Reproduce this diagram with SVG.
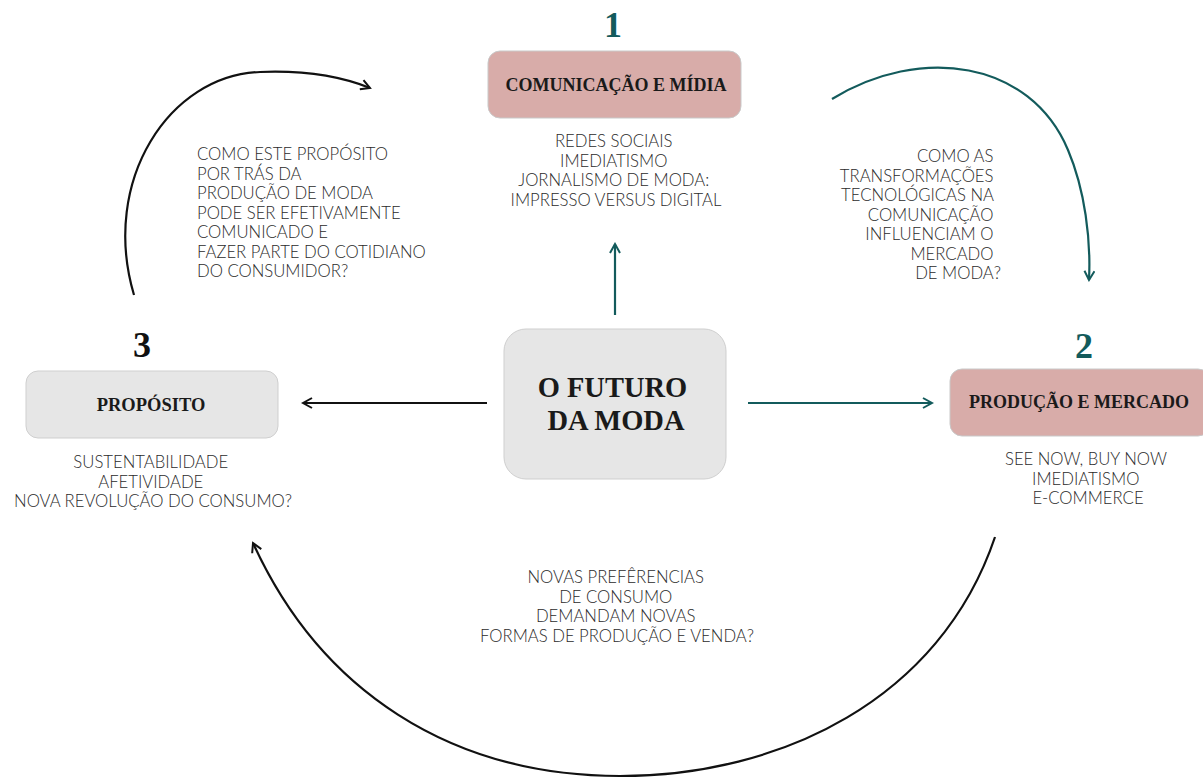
<svg xmlns="http://www.w3.org/2000/svg" width="1203" height="778" viewBox="0 0 1203 778">
<defs>
<style>
.t{font-family:"Lato","Liberation Sans",sans-serif;font-weight:300;font-size:16.7px;fill:#2b2b2b;}
.h{font-family:"Liberation Serif","DejaVu Serif",serif;font-weight:bold;fill:#1a1a1a;}
.num{font-family:"Liberation Serif","DejaVu Serif",serif;font-weight:bold;font-size:36px;}
.pink{fill:#d8aca9;stroke:#c9c9c9;stroke-width:1;}
.grey{fill:#e6e6e6;stroke:#cfcfcf;stroke-width:1;}
.teal{stroke:#135b5c;stroke-width:2.2;fill:none;}
.blk{stroke:#111;stroke-width:2.2;fill:none;}
</style>
<marker id="aT" viewBox="0 0 12 12" refX="10" refY="6" markerWidth="12" markerHeight="12" markerUnits="userSpaceOnUse" orient="auto">
<path d="M1,1 L10,6 L1,11" fill="none" stroke="#135b5c" stroke-width="2"/>
</marker>
<marker id="aB" viewBox="0 0 12 12" refX="10" refY="6" markerWidth="12" markerHeight="12" markerUnits="userSpaceOnUse" orient="auto">
<path d="M1,1 L10,6 L1,11" fill="none" stroke="#111" stroke-width="2"/>
</marker>
</defs>
<rect width="1203" height="778" fill="#ffffff"/>

<g id="connectors">
<path class="teal" d="M615,315 L615,244" marker-end="url(#aT)"/>
<path class="blk" d="M487,403 L303,403" marker-end="url(#aB)"/>
<path class="teal" d="M748,403 L932,403" marker-end="url(#aT)"/>
<path class="teal" d="M832,99 C920,45 1030,60 1068,150 C1085,190 1091,240 1089,280" marker-end="url(#aT)"/>
<path class="blk" d="M134,295 C100,180 170,75 260,72 C310,70 345,78 370,88" marker-end="url(#aB)"/>
<path class="blk" d="M995,537 C940,700 780,776 620,776 C450,776 320,690 253,543" marker-end="url(#aB)"/>
</g>

<g id="node-comunicacao">
<text class="num" x="613" y="37" text-anchor="middle" fill="#135b5c">1</text>
<rect class="pink" x="488" y="51" width="253" height="67" rx="12"/>
<text class="h" x="616" y="91" text-anchor="middle" font-size="18">COMUNICAÇÃO E MÍDIA</text>
<text class="t" text-anchor="middle">
<tspan x="616" y="147">REDES SOCIAIS</tspan>
<tspan x="616" y="166.5">IMEDIATISMO</tspan>
<tspan x="616" y="186">JORNALISMO DE MODA:</tspan>
<tspan x="616" y="205.5">IMPRESSO VERSUS DIGITAL</tspan>
</text>
</g>

<g id="node-futuro">
<rect class="grey" x="504" y="329" width="222" height="150" rx="22"/>
<text class="h" text-anchor="middle" font-size="28.5">
<tspan x="616" y="397">O FUTURO</tspan>
<tspan x="616" y="430">DA MODA</tspan>
</text>
</g>

<g id="node-proposito">
<text class="num" x="142" y="357" text-anchor="middle" fill="#111">3</text>
<rect class="grey" x="26" y="371" width="252" height="67" rx="12"/>
<text class="h" x="151" y="411" text-anchor="middle" font-size="18.5">PROPÓSITO</text>
<text class="t" text-anchor="middle">
<tspan x="153" y="468">SUSTENTABILIDADE</tspan>
<tspan x="153" y="487.5">AFETIVIDADE</tspan>
<tspan x="153" y="507">NOVA REVOLUÇÃO DO CONSUMO?</tspan>
</text>
</g>

<g id="node-producao">
<text class="num" x="1084" y="358" text-anchor="middle" fill="#135b5c">2</text>
<rect class="pink" x="950" y="369" width="260" height="67" rx="12"/>
<text class="h" x="1079" y="408" text-anchor="middle" font-size="18">PRODUÇÃO E MERCADO</text>
<text class="t" text-anchor="middle">
<tspan x="1088" y="465">SEE NOW, BUY NOW</tspan>
<tspan x="1088" y="484.5">IMEDIATISMO</tspan>
<tspan x="1088" y="504">E-COMMERCE</tspan>
</text>
</g>

<g id="label-tr">
<text class="t" text-anchor="end">
<tspan x="998" y="162">COMO AS</tspan>
<tspan x="998" y="181.5">TRANSFORMAÇÕES</tspan>
<tspan x="998" y="201">TECNOLÓGICAS NA</tspan>
<tspan x="998" y="220.5">COMUNICAÇÃO</tspan>
<tspan x="998" y="240">INFLUENCIAM O</tspan>
<tspan x="998" y="259.5">MERCADO</tspan>
<tspan x="1001" y="279">DE MODA?</tspan>
</text>
</g>

<g id="label-tl">
<text class="t">
<tspan x="197" y="160">COMO ESTE PROPÓSITO</tspan>
<tspan x="197" y="179.5">POR TRÁS DA</tspan>
<tspan x="197" y="199">PRODUÇÃO DE MODA</tspan>
<tspan x="197" y="218.5">PODE SER EFETIVAMENTE</tspan>
<tspan x="197" y="238">COMUNICADO E</tspan>
<tspan x="197" y="257.5">FAZER PARTE DO COTIDIANO</tspan>
<tspan x="197" y="277">DO CONSUMIDOR?</tspan>
</text>
</g>

<g id="label-bottom">
<text class="t" text-anchor="middle">
<tspan x="618" y="583">NOVAS PREFÊRENCIAS</tspan>
<tspan x="618" y="602.5">DE CONSUMO</tspan>
<tspan x="618" y="622">DEMANDAM NOVAS</tspan>
<tspan x="617" y="641.5">FORMAS DE PRODUÇÃO E VENDA?</tspan>
</text>
</g>
</svg>
